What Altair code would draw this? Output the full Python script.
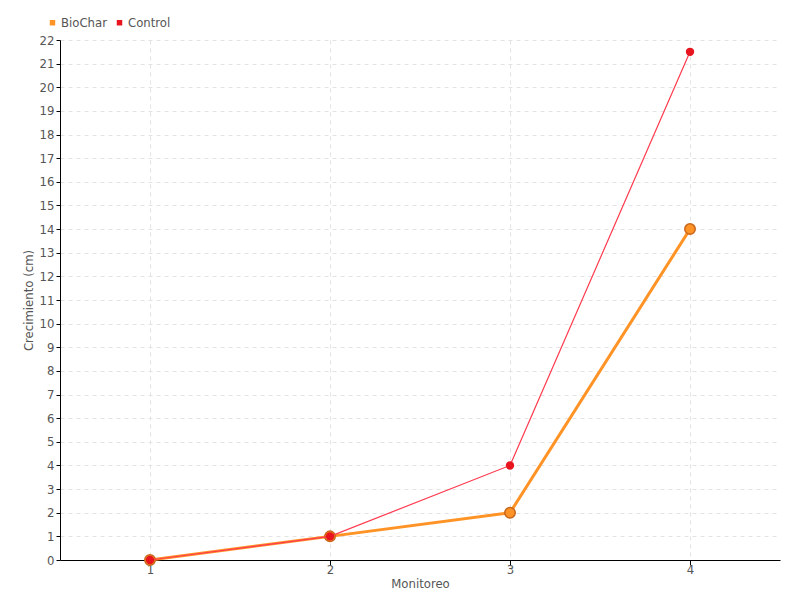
import altair as alt
import pandas as pd

monitoreo = ["1", "2", "3", "4"]
biochar = [0, 1, 2, 14]
control = [0, 1, 4, 21.5]
series = ["BioChar", "Control"]
colors = ["#ff9326", "#e8141e"]

rows = []
for m, v in zip(monitoreo, biochar):
    rows.append({"Monitoreo": m, "valor": v, "serie": "BioChar"})
for m, v in zip(monitoreo, control):
    rows.append({"Monitoreo": m, "valor": v, "serie": "Control"})
df = pd.DataFrame(rows)

FONT = "DejaVu Sans Condensed"

x = alt.X("Monitoreo:N", sort=monitoreo, title="Monitoreo",
          scale=alt.Scale(type="point", padding=0.5),
          axis=alt.Axis(labelAngle=0, domainColor="#000", tickColor="#000",
                        gridDash=[4, 4], gridColor="#e3e3e3", grid=True,
                        titlePadding=1, labelPadding=-2, tickSize=5))
y = alt.Y("valor:Q", title="Crecimiento (cm)",
          scale=alt.Scale(domain=[0, 22], nice=False),
          axis=alt.Axis(values=list(range(0, 23)), domainColor="#000", tickColor="#000",
                        gridDash=[4, 4], gridColor="#e3e3e3", tickSize=4,
                        titleX=-25, labelPadding=2))
color = alt.Color("serie:N", scale=alt.Scale(domain=series, range=colors),
                  legend=alt.Legend(orient="none", legendX=-14, legendY=-24,
                                    direction="horizontal", title=None,
                                    symbolType="square", symbolSize=30,
                                    labelFontSize=13, labelColor="#555",
                                    labelFont=FONT, columnPadding=6, labelOffset=2,
                                    symbolStrokeWidth=0))

bio = df[df.serie == "BioChar"]
ctl = df[df.serie == "Control"]

bio_line = alt.Chart(bio).mark_line(strokeWidth=3, color="#ff9326").encode(x=x, y=y)
bio_pts = alt.Chart(bio).mark_circle(size=110, opacity=1, stroke="#c8661a", strokeWidth=1.5
                                     ).encode(x=x, y=y, color=color)
ctl_line = alt.Chart(ctl).mark_line(strokeWidth=1.2, color="#ff3a4e").encode(x=x, y=y)
ctl_pts = alt.Chart(ctl).mark_circle(size=70, opacity=1).encode(x=x, y=y, color=color)

chart = alt.layer(bio_line, bio_pts, ctl_line, ctl_pts).properties(
    width=720, height=520,
    autosize=alt.AutoSizeParams(type="none"),
    padding={"left": 52, "top": 32, "right": 12, "bottom": 40},
).configure_axis(
    labelFont=FONT, titleFont=FONT, labelFontSize=13, titleFontSize=13,
    labelColor="#555", titleColor="#555", titleFontWeight="normal",
).configure_view(stroke=None)

chart.save("out.html", embed_options={"renderer": "svg", "actions": False})
